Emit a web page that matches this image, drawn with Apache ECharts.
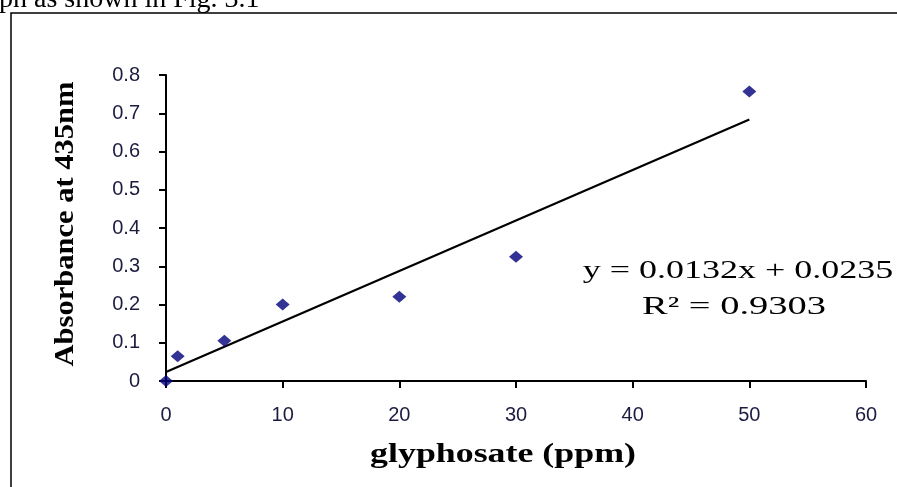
<!DOCTYPE html>
<html>
<head>
<meta charset="utf-8">
<script src="https://cdn.jsdelivr.net/npm/echarts@6/dist/echarts.min.js"></script>
<style>html,body{margin:0;padding:0;background:#fff}#c{width:897px;height:487px}</style>
</head>
<body>
<div id="c"></div>
<script>
var concentrations = [0, 1, 5, 10, 20, 30, 50];
var absorbances = [0, 0.065, 0.105, 0.2, 0.22, 0.325, 0.757];
var trendX = [0, 50];
var trendY = [0.0235, 0.6835];
var xTicks = [0, 10, 20, 30, 40, 50, 60];
var yTicks = [0, 0.1, 0.2, 0.3, 0.4, 0.5, 0.6, 0.7, 0.8];
var xTitle = 'glyphosate (ppm)';
var yTitle = 'Absorbance at 435nm';
var equationText = 'y = 0.0132x + 0.0235';
var r2Text = 'R² = 0.9303';
var headerText = 'ph as shown in Fig. 3.1';

var chart = echarts.init(document.getElementById('c'));
var tickColor = '#1c1c40';
chart.setOption({
  animation: false,
  backgroundColor: '#fff',
  grid: {left: 166, top: 75, right: 31, bottom: 106},
  xAxis: {
    type: 'value', min: xTicks[0], max: xTicks[xTicks.length - 1], interval: 10,
    splitLine: {show: false},
    axisLine: {lineStyle: {color: '#000', width: 2}},
    axisTick: {lineStyle: {color: '#000', width: 2}, length: 7},
    axisLabel: {color: tickColor, fontFamily: 'Liberation Sans', fontSize: 20, margin: 24}
  },
  yAxis: {
    type: 'value', min: yTicks[0], max: yTicks[yTicks.length - 1], interval: 0.1,
    splitLine: {show: false},
    axisLine: {lineStyle: {color: '#000', width: 2}},
    axisTick: {lineStyle: {color: '#000', width: 2}, length: 7},
    axisLabel: {color: tickColor, fontFamily: 'Liberation Sans', fontSize: 20, margin: 26,
      formatter: function (v) { return String(Math.round(v * 10) / 10); }}
  },
  series: [
    {
      type: 'line', data: trendX.map(function (x, i) { return [x, trendY[i]]; }),
      showSymbol: false, symbol: 'none', lineStyle: {color: '#000', width: 2.2}, z: 2
    },
    {
      type: 'scatter', data: concentrations.map(function (x, i) { return [x, absorbances[i]]; }),
      symbol: 'diamond', symbolSize: [14, 12], itemStyle: {color: '#00007a'}, z: 3
    }
  ],
  graphic: [
    {type: 'rect', shape: {x: 11, y: 13, width: 900, height: 500}, style: {fill: 'none', stroke: '#000', lineWidth: 1.5}, silent: true},
    {type: 'text', x: -1, y: 0, style: {text: headerText, font: '28px "Liberation Serif"', fill: '#000', textVerticalAlign: 'middle'}},
    {type: 'text', x: 503, y: 455, scaleX: 1.28, style: {text: xTitle, font: 'bold 28px "Liberation Serif"', fill: '#000', textAlign: 'center', textVerticalAlign: 'middle'}},
    {type: 'text', x: 66, y: 224, rotation: Math.PI / 2, scaleX: 1.09, style: {text: yTitle, font: 'bold 28px "Liberation Serif"', fill: '#000', textAlign: 'center', textVerticalAlign: 'middle'}},
    {type: 'text', x: 738, y: 271, scaleX: 1.44, style: {text: equationText, font: '25px "Liberation Serif"', fill: '#000', textAlign: 'center', textVerticalAlign: 'middle'}},
    {type: 'text', x: 734, y: 307, scaleX: 1.54, style: {text: r2Text, font: '25px "Liberation Serif"', fill: '#000', textAlign: 'center', textVerticalAlign: 'middle'}}
  ]
});
</script>
</body>
</html>
